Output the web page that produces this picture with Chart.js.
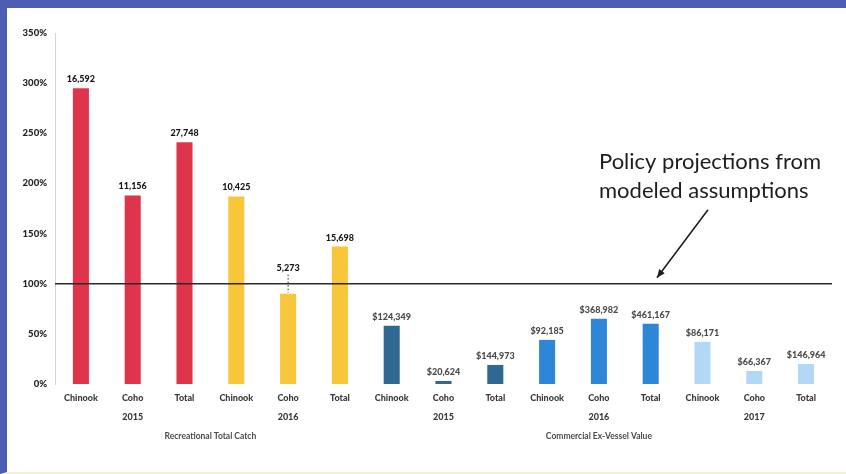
<!DOCTYPE html>
<html>
<head>
<meta charset="utf-8">
<script src="https://cdn.jsdelivr.net/npm/chart.js@4"></script>
<style>
  html, body { margin: 0; padding: 0; background: #fff; }
  #frame {
    width: 846px;
    height: 474px;
    box-sizing: border-box;
    border-left: 7px solid #4b5eb3;
    border-top: 8px solid #4b5eb3;
    border-bottom: 2px solid #f3f0d4;
    background: #fff;
  }
  canvas { display: block; }
</style>
</head>
<body>
<div id="frame">
  <canvas id="catch-chart" width="839" height="464"></canvas>
</div>
<script>
// ---- data ----
const categories = [
  'Chinook', 'Coho', 'Total', 'Chinook', 'Coho', 'Total',
  'Chinook', 'Coho', 'Total', 'Chinook', 'Coho', 'Total',
  'Chinook', 'Coho', 'Total'
];
const yearRow = ['', '2015', '', '', '2016', '', '', '2015', '', '', '2016', '', '', '2017', ''];
const groupTitles = ['Recreational Total Catch', 'Commercial Ex-Vessel Value'];
const groupSpans = [[0, 5], [6, 14]];

// percent of the baseline
const pctOfBase = [295, 188, 241, 187, 90, 137, 58, 3, 19, 44, 65, 60, 42, 13, 20];
const valueLabels = [
  '16,592', '11,156', '27,748', '10,425', '5,273', '15,698',
  '$124,349', '$20,624', '$144,973', '$92,185', '$368,982', '$461,167',
  '$86,171', '$66,367', '$146,964'
];
const referenceLevel = 100;
const Y_MAX = 350;
const Y_STEP = 50;

const noteLines = ['Policy projections from', 'modeled assumptions'];

// ---- styles ----
const FONT = 'Lato, "Open Sans", sans-serif';
const setColors = [
  '#e0344c', '#e0344c', '#e0344c', // rec 2015
  '#f8c63a', '#f8c63a', '#f8c63a', // rec 2016
  '#2f6890', '#2f6890', '#2f6890', // comm 2015
  '#2e87d6', '#2e87d6', '#2e87d6', // comm 2016
  '#b2d8f6', '#b2d8f6', '#b2d8f6'  // comm 2017
];

const overlayPlugin = {
  id: 'overlay',
  afterDatasetsDraw(chart) {
    const ctx = chart.ctx;
    const x = chart.scales.x;
    const y = chart.scales.y;
    const area = chart.chartArea;
    const refY = y.getPixelForValue(referenceLevel);

    ctx.save();

    // 100% line
    ctx.strokeStyle = '#2a2a2a';
    ctx.lineWidth = 1.6;
    ctx.beginPath();
    ctx.moveTo(area.left, refY);
    ctx.lineTo(area.right, refY);
    ctx.stroke();

    // value labels
    const bars = chart.getDatasetMeta(0).data;
    ctx.font = '900 9px ' + FONT;
    ctx.textAlign = 'center';
    ctx.textBaseline = 'middle';
    bars.forEach((bar, i) => {
      let ly = bar.y - 9;
      ctx.fillStyle = i < 6 ? '#151515' : '#4a4a4a';
      if (Math.abs(ly - refY) < 8) {
        // lift the label above the 100% line and add a leader
        ly = refY - 16;
        ctx.strokeStyle = '#333';
        ctx.lineWidth = 1;
        ctx.setLineDash([1.5, 2]);
        ctx.beginPath();
        ctx.moveTo(bar.x, ly + 7);
        ctx.lineTo(bar.x, bar.y - 1);
        ctx.stroke();
        ctx.setLineDash([]);
      }
      ctx.fillText(valueLabels[i], bar.x, ly);
    });

    // year row
    ctx.fillStyle = '#3a3a3a';
    yearRow.forEach((yr, i) => {
      if (yr) ctx.fillText(yr, x.getPixelForValue(i), area.bottom + 33);
    });

    // group titles
    ctx.font = 'bold 8.5px ' + FONT;
    ctx.fillStyle = '#4a4a4a';
    groupTitles.forEach((t, g) => {
      const cx = (x.getPixelForValue(groupSpans[g][0]) + x.getPixelForValue(groupSpans[g][1])) / 2;
      ctx.fillText(t, cx, area.bottom + 52);
    });

    // note + arrow
    ctx.font = '22px ' + FONT;
    ctx.fillStyle = '#1e1e1e';
    ctx.textAlign = 'left';
    const nx = area.left + 544;
    ctx.fillText(noteLines[0], nx, refY - 122);
    ctx.fillText(noteLines[1], nx, refY - 93);

    const tipX = area.left + 602;
    const tipY = refY - 6;
    const fromX = area.left + 653;
    const fromY = refY - 74;
    ctx.strokeStyle = '#1e1e1e';
    ctx.lineWidth = 1.5;
    ctx.beginPath();
    ctx.moveTo(fromX, fromY);
    ctx.lineTo(tipX, tipY);
    ctx.stroke();
    const ang = Math.atan2(tipY - fromY, tipX - fromX);
    ctx.beginPath();
    ctx.moveTo(tipX, tipY);
    ctx.lineTo(tipX - 9 * Math.cos(ang - 0.4), tipY - 9 * Math.sin(ang - 0.4));
    ctx.lineTo(tipX - 9 * Math.cos(ang + 0.4), tipY - 9 * Math.sin(ang + 0.4));
    ctx.closePath();
    ctx.fill();

    ctx.restore();
  }
};

new Chart(document.getElementById('catch-chart'), {
  type: 'bar',
  data: {
    labels: categories,
    datasets: [{
      label: 'Percent of base',
      data: pctOfBase,
      backgroundColor: setColors,
      borderWidth: 0,
      barPercentage: 0.31,
      categoryPercentage: 1.0
    }]
  },
  options: {
    responsive: false,
    animation: false,
    layout: { padding: { top: 25, right: 14, left: 0, bottom: 0 } },
    plugins: {
      legend: { display: false },
      tooltip: { enabled: false }
    },
    scales: {
      x: {
        grid: { display: false, drawTicks: false },
        border: { display: false },
        ticks: {
          color: '#3a3a3a',
          padding: 9,
          maxRotation: 0,
          autoSkip: false,
          font: { family: FONT, size: 9, weight: '900' }
        },
        afterFit(s) { s.height = 88; }
      },
      y: {
        min: 0,
        max: Y_MAX,
        grid: { display: false, drawTicks: false },
        border: { display: true, color: '#c8d6f0', width: 1, dash: [2, 3] },
        ticks: {
          stepSize: Y_STEP,
          color: '#222',
          padding: 8,
          font: { family: FONT, size: 9.5, weight: '900' },
          callback: v => v + '%'
        },
        afterFit(s) { s.width = 48; }
      }
    }
  },
  plugins: [overlayPlugin]
});
</script>
</body>
</html>
